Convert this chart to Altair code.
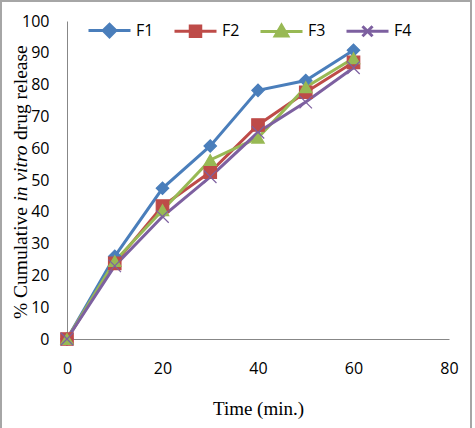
import altair as alt
import pandas as pd

times = [0, 10, 20, 30, 40, 50, 60]
series_names = ["F1", "F2", "F3", "F4"]
F1 = [0, 26.0, 47.4, 60.7, 78.2, 81.3, 90.8]
F2 = [0, 23.8, 41.8, 52.5, 67.3, 77.6, 87.0]
F3 = [0, 24.5, 40.5, 56.3, 63.3, 79.2, 88.3]
F4 = [0, 23.0, 38.5, 51.0, 65.0, 74.5, 85.3]
colors = ["#4A7EBB", "#BE4B48", "#98B954", "#7D60A0"]

x_ticks = [0, 20, 40, 60, 80]
y_ticks = [0, 10, 20, 30, 40, 50, 60, 70, 80, 90, 100]

rows = []
for name, vals in zip(series_names, [F1, F2, F3, F4]):
    for t, v in zip(times, vals):
        rows.append({"t": t, "v": v, "s": name})
df = pd.DataFrame(rows)

point_shapes = ["diamond", "square", "triangle-up", "M-1,-1L1,1M-1,1L1,-1"]
legend_shapes = [
    "M-1,0H1M0,-0.3L0.3,0L0,0.3L-0.3,0Z",
    "M-1,0H1M-0.25,-0.25H0.25V0.25H-0.25Z",
    "M-1,0H1M0,-0.3L0.3,0.22H-0.3Z",
    "M-1,0H1M-0.24,-0.24L0.24,0.24M-0.24,0.24L0.24,-0.24",
]

W, H = 382, 318
LEFT, TOP = 67, 21

xs = alt.Scale(domain=[0, 80], nice=False)
ys = alt.Scale(domain=[0, 100], nice=False)
cscale = alt.Scale(domain=series_names, range=colors)
fscale_colors = colors[:3] + ["transparent"]

x_axis = alt.Axis(values=x_ticks, title="Time (min.)", titleFont="Liberation Serif",
                  titleFontSize=19, titleFontWeight="normal", titlePadding=23,
                  labelPadding=21, labelOverlap=False, labelFlush=False)
y_axis = alt.Axis(values=y_ticks, title="", labelPadding=18, labelOverlap=False, labelFlush=False)


def xe():
    return alt.X("t:Q", scale=xs, axis=x_axis)


def ye():
    return alt.Y("v:Q", scale=ys, axis=y_axis)


base = alt.Chart(df)

lines = base.mark_line(strokeWidth=3).encode(
    x=xe(), y=ye(),
    color=alt.Color("s:N", scale=cscale, legend=None),
    detail="s:N",
)

points = base.mark_point(filled=False, size=155, strokeWidth=1.2, opacity=1).encode(
    x=xe(), y=ye(),
    fill=alt.Fill("s:N", scale=alt.Scale(domain=series_names, range=fscale_colors), legend=None),
    stroke=alt.Stroke("s:N", scale=cscale, legend=None),
    shape=alt.Shape("s:N", scale=alt.Scale(domain=series_names, range=point_shapes), legend=None),
)


def make_legend():
    return alt.Legend(title="", orient="none", legendX=20, legendY=-13,
                      direction="horizontal", columns=4, symbolSize=1764,
                      symbolStrokeWidth=3, symbolOpacity=1, labelFont="Open Sans", labelFontSize=16,
                      labelColor="#000000", labelOffset=4, columnPadding=14, padding=0)


legend_layer = base.transform_filter("datum.t < 0").mark_point(
    filled=False, strokeWidth=3, opacity=1, fillOpacity=1, strokeOpacity=1
).encode(
    x=xe(), y=ye(),
    fill=alt.Fill("s:N", scale=alt.Scale(domain=series_names, range=fscale_colors), legend=make_legend()),
    stroke=alt.Stroke("s:N", scale=cscale, legend=make_legend()),
    shape=alt.Shape("s:N", scale=alt.Scale(domain=series_names, range=legend_shapes), legend=make_legend()),
)

# y-axis title in three pieces (middle piece italic)
title_df = pd.DataFrame({"k": [0]})
tx = 27 - LEFT
common = dict(angle=270, baseline="alphabetic", font="Liberation Serif", fontSize=19.5, color="#000000")
t1 = alt.Chart(title_df).mark_text(text="% Cumulative", align="right", **common).encode(
    x=alt.value(tx), y=alt.value(207 - TOP))
t2 = alt.Chart(title_df).mark_text(text="in vitro", align="center", fontStyle="italic", **common).encode(
    x=alt.value(tx), y=alt.value(173.5 - TOP))
t3 = alt.Chart(title_df).mark_text(text="drug release", align="left", **common).encode(
    x=alt.value(tx), y=alt.value(140 - TOP))

frame = alt.Chart(title_df).mark_rect(fill="transparent", stroke="#A6A6A6", strokeWidth=2).encode(
    x=alt.value(1 - LEFT), x2=alt.value(471 - LEFT), y=alt.value(1 - TOP), y2=alt.value(440 - TOP))

chart = alt.layer(frame, lines, points, legend_layer, t1, t2, t3).resolve_scale(
    shape="independent", fill="independent", stroke="independent"
).properties(
    width=W, height=H,
    autosize=alt.AutoSizeParams(type="none"),
    padding={"left": LEFT, "top": TOP, "right": 475 - LEFT - W, "bottom": 428 - TOP - H},
    background="white",
).configure_view(strokeWidth=0).configure_axis(
    domainColor="#878787", domainWidth=1, ticks=False, tickSize=0, grid=False,
    labelFont="Open Sans", labelFontSize=16, labelColor="#000000", titleColor="#000000",
)

chart.save("out.html", embed_options={"renderer": "svg", "actions": False})
